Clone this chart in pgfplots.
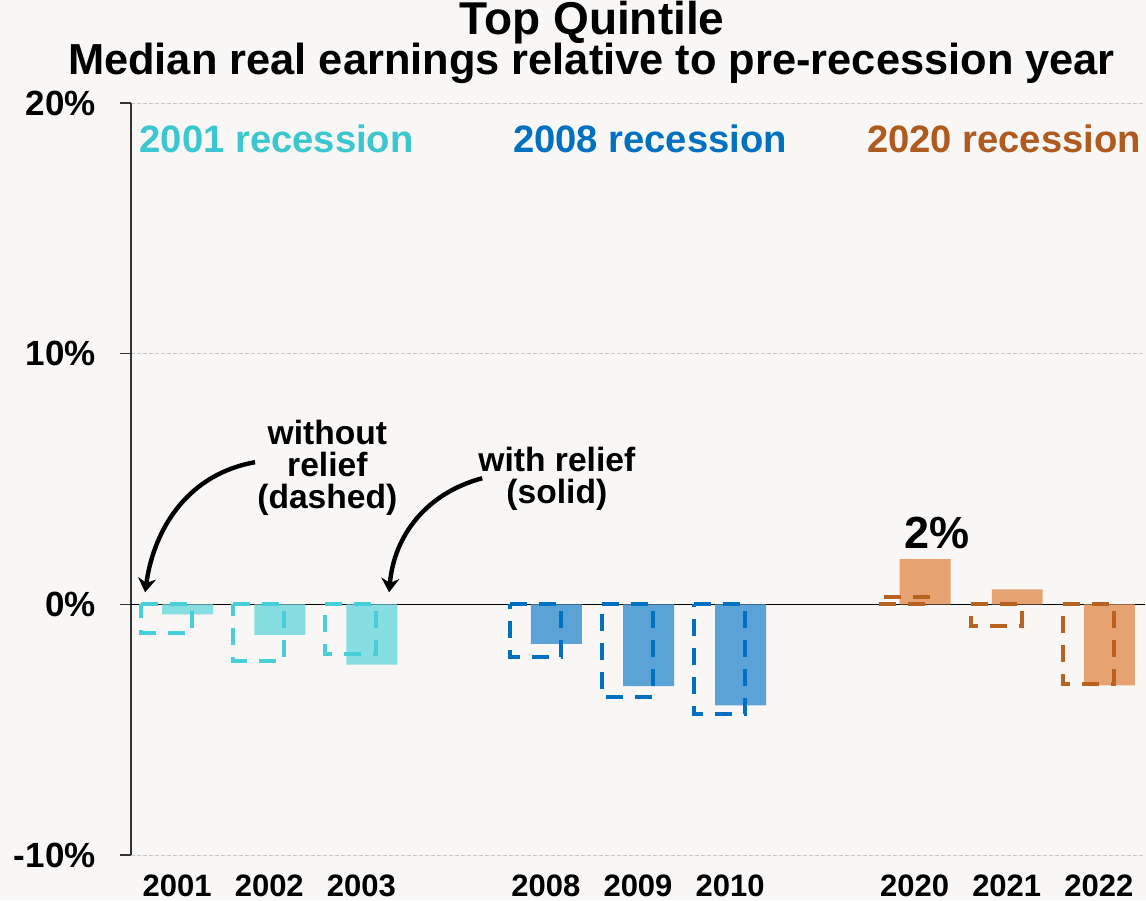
\documentclass[border=0pt]{standalone}
\usepackage{pgfplots}
\pgfplotsset{compat=1.18}
\usepackage{pgfplotstable}
\usepackage{fontspec}
\setmainfont{Liberation Sans}
\usetikzlibrary{arrows.meta}
\definecolor{bg}{HTML}{F8F7F5}
\definecolor{atext}{HTML}{3AC7D0}
\definecolor{asolid}{HTML}{86DDE2}
\definecolor{adash}{HTML}{47CED8}
\definecolor{btext}{HTML}{0070C0}
\definecolor{bsolid}{HTML}{5BA3D6}
\definecolor{bdash}{HTML}{0070C0}
\definecolor{ctext}{HTML}{AF5A1F}
\definecolor{csolid}{HTML}{E7A271}
\definecolor{cdash}{HTML}{B8621F}

% x = slot, dashed = without relief, solid = with relief
\pgfplotstableread{
x dashed solid
0 -1.14 -0.40
1 -2.25 -1.22
2 -1.98 -2.41
}\recA
\pgfplotstableread{
x dashed solid
4 -2.11 -1.58
5 -3.70 -3.26
6 -4.39 -4.03
}\recB
\pgfplotstableread{
x dashed solid
8 0.28 1.80
9 -0.85 0.60
10 -3.17 -3.23
}\recC

\begin{document}
\begin{tikzpicture}
\fill[bg] (0,0) rectangle (573pt,450pt);
\begin{axis}[
  at={(65.5pt,22.5pt)}, anchor=south west,
  scale only axis, width=507pt, height=376pt,
  xmin=-0.5, xmax=10.5, ymin=-10, ymax=20,
  clip=false,
  axis lines*=left,
  x axis line style={draw=none},
  y axis line style={draw=black!80, line width=0.7pt},
  xtick={0,1,2,4,5,6,8,9,10},
  xticklabels={2001,2002,2003,2008,2009,2010,2020,2021,2022},
  xtick style={draw=none},
  ytick={-10,0,10,20},
  yticklabels={-10\%,0\%,10\%,20\%},
  ytick style={draw=black!80, line width=0.7pt},
  tick align=outside, major tick length=5.5pt,
  ymajorgrids,
  grid style={gray!45, line width=0.4pt, dash pattern=on 2pt off 1pt},
  extra y ticks={0}, extra y tick labels={},
  extra y tick style={grid style={black, solid, line width=0.7pt}, major tick length=0pt},
  yticklabel style={font=\bfseries\fontsize{17.5}{20}\selectfont, anchor=east, inner sep=0pt, xshift=-12pt},
  xticklabel style={font=\bfseries\fontsize{15.5}{18}\selectfont, anchor=north, inner sep=0pt, yshift=-4pt},
]
\addplot[ybar, bar width=0.553, bar shift=0.114, fill=asolid, draw=none] table[x=x,y=solid]{\recA};
\addplot[ybar, bar width=0.553, bar shift=0.114, fill=bsolid, draw=none] table[x=x,y=solid]{\recB};
\addplot[ybar, bar width=0.553, bar shift=0.114, fill=csolid, draw=none] table[x=x,y=solid]{\recC};
\addplot[ybar, bar width=0.553, bar shift=-0.114, fill=none, draw=adash, line width=2pt, dash pattern=on 8.5pt off 6pt] table[x=x,y=dashed]{\recA};
\addplot[ybar, bar width=0.553, bar shift=-0.114, fill=none, draw=bdash, line width=2pt, dash pattern=on 8.5pt off 6pt] table[x=x,y=dashed]{\recB};
\addplot[ybar, bar width=0.553, bar shift=-0.114, fill=none, draw=cdash, line width=2pt, dash pattern=on 8.5pt off 6pt] table[x=x,y=dashed]{\recC};

\node[anchor=base west, inner sep=0pt, text=atext, font=\bfseries\fontsize{19.1}{22}\selectfont] at (axis cs:-0.41,18.04) {2001 recession};
\node[anchor=base west, inner sep=0pt, text=btext, font=\bfseries\fontsize{19.1}{22}\selectfont] at (axis cs:3.64,18.04) {2008 recession};
\node[anchor=base west, inner sep=0pt, text=ctext, font=\bfseries\fontsize{19.1}{22}\selectfont] at (axis cs:7.48,18.04) {2020 recession};

\node[anchor=center, inner sep=0pt, align=center, font=\bfseries\fontsize{16.8}{16}\selectfont] at (axis cs:1.63,5.45) {without\\relief\\(dashed)};
\node[anchor=center, inner sep=0pt, align=center, font=\bfseries\fontsize{16.8}{16}\selectfont] at (axis cs:4.12,5.0) {with relief\\(solid)};
\node[anchor=base, inner sep=0pt, font=\bfseries\fontsize{22.5}{26}\selectfont] at (axis cs:8.24,2.24) {2\%};

\draw[line width=2.2pt, -{Stealth[length=7pt,width=9pt]}] (axis cs:0.846,5.67) to[out=190,in=82] (axis cs:-0.347,0.48);
\draw[line width=2.2pt, -{Stealth[length=7pt,width=9pt]}] (axis cs:3.31,5.03) to[out=195,in=85] (axis cs:2.30,0.48);
\end{axis}
\node[anchor=base, inner sep=0pt, font=\bfseries\fontsize{23}{28}\selectfont] at (296pt,432.5pt) {Top Quintile};
\node[anchor=base, inner sep=0pt, font=\bfseries\fontsize{21.7}{26}\selectfont] at (295.75pt,412.5pt) {Median real earnings relative to pre-recession year};
\pgfresetboundingbox
\useasboundingbox (0,0) rectangle (573pt,450pt);
\end{tikzpicture}
\end{document}
